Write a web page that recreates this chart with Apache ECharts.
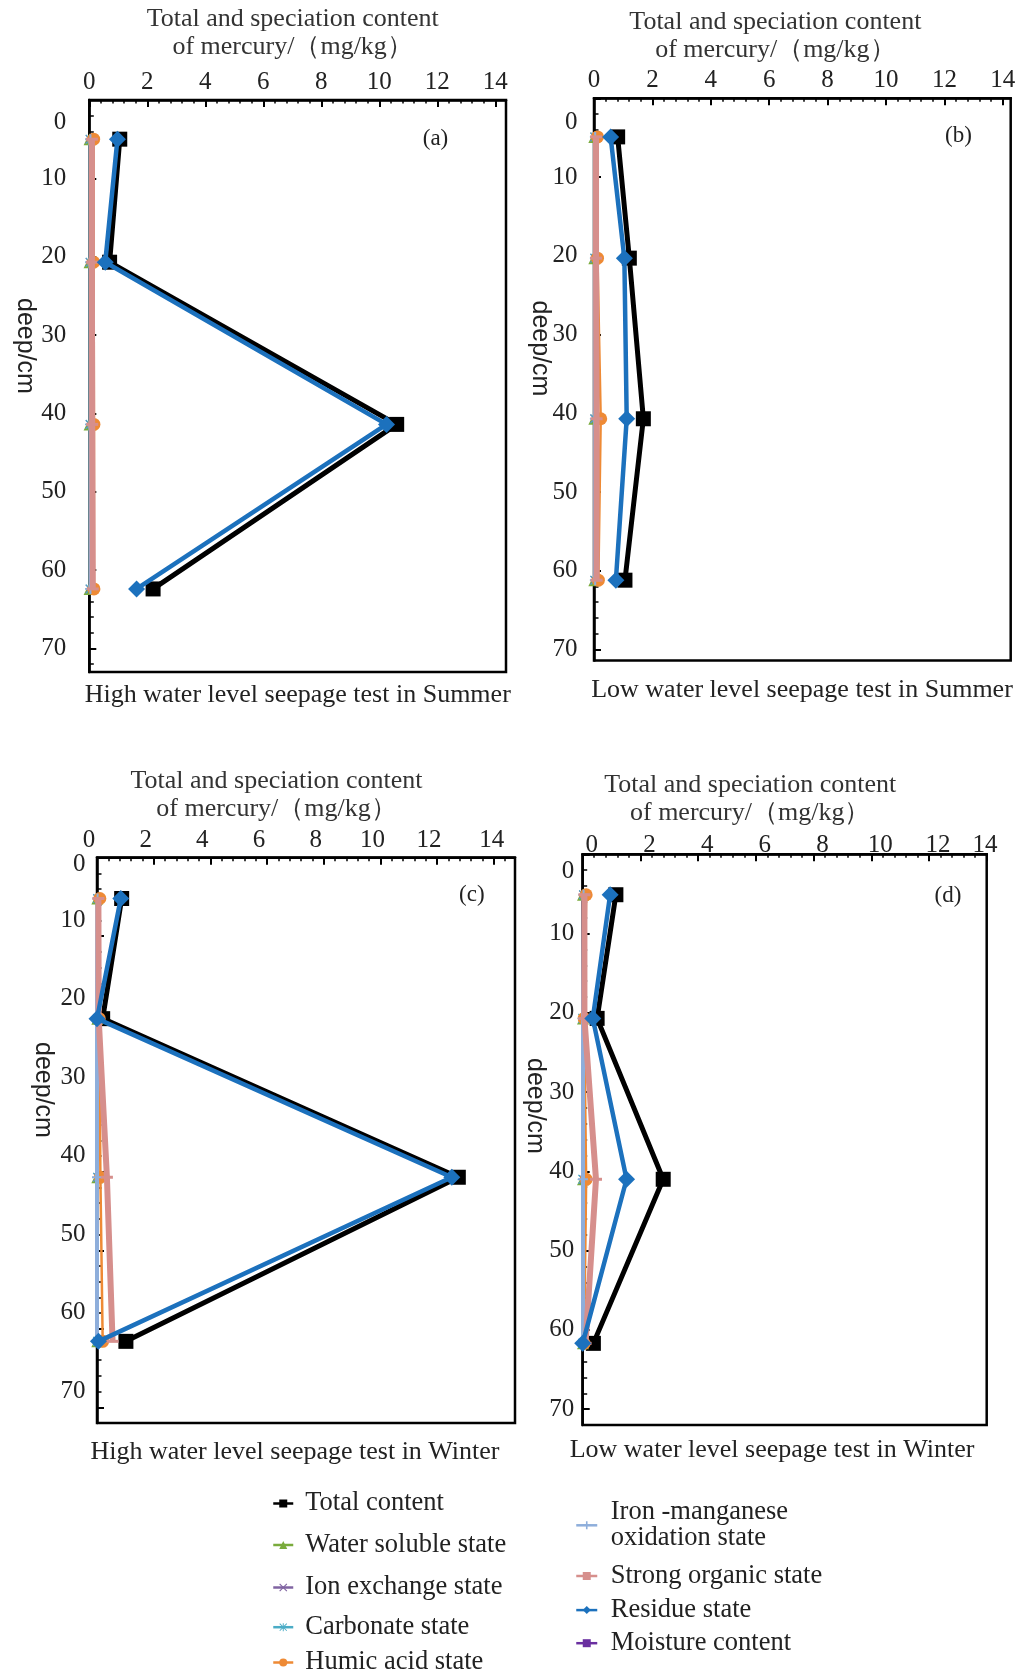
<!DOCTYPE html>
<html>
<head>
<meta charset="utf-8">
<script src="https://cdn.jsdelivr.net/npm/echarts@6/dist/echarts.min.js"></script>
<style>html,body{margin:0;padding:0;background:#fff}#c{width:1030px;height:1674px}</style>
</head>
<body>
<div id="c"></div>
<script>
// ---------- DATA ----------
// depth of the sampling points (cm), per panel
const depthA = [5, 20.7, 41.4, 62.4];
const depthB = [4.9, 20.3, 40.7, 61.2];
const depthC = [5.2, 20.5, 40.7, 61.6];
const depthD = [5.1, 20.7, 41.0, 61.7];

// (a) High water level seepage test in Summer
const totalA   = [1.05, 0.70, 10.60, 2.20];
const waterA   = [0.01, 0.01, 0.01, 0.01];
const ionA     = [0.02, 0.02, 0.02, 0.02];
const carbA    = [0.03, 0.03, 0.03, 0.03];
const humicA   = [0.15, 0.15, 0.16, 0.16];
const ironA    = [0.04, 0.04, 0.04, 0.04];
const organicA = [0.09, 0.09, 0.10, 0.12];
const residueA = [0.97, 0.55, 10.25, 1.63];

// (b) Low water level seepage test in Summer
const totalB   = [0.81, 1.21, 1.69, 1.06];
const waterB   = [0.01, 0.01, 0.01, 0.01];
const ionB     = [0.02, 0.02, 0.02, 0.02];
const carbB    = [0.03, 0.03, 0.03, 0.03];
const humicB   = [0.12, 0.12, 0.23, 0.15];
const ironB    = [0.04, 0.04, 0.04, 0.04];
const organicB = [0.07, 0.07, 0.09, 0.09];
const residueB = [0.57, 1.04, 1.12, 0.75];

// (c) High water level seepage test in Winter
const totalC   = [0.87, 0.20, 12.75, 1.02];
const waterC   = [0.01, 0.01, 0.01, 0.01];
const ionC     = [0.02, 0.02, 0.02, 0.02];
const carbC    = [0.02, 0.02, 0.02, 0.02];
const humicC   = [0.10, 0.08, 0.12, 0.20];
const ironC    = [0.02, 0.0, 0.0, 0.0];
const organicC = [0.05, 0.06, 0.35, 0.55];
const residueC = [0.84, 0.0, 12.52, 0.05];

// (d) Low water level seepage test in Winter
const totalD   = [1.15, 0.50, 2.79, 0.37];
const waterD   = [0.01, 0.01, 0.01, 0.01];
const ionD     = [0.02, 0.02, 0.02, 0.02];
const carbD    = [0.03, 0.0, 0.0, 0.0];
const humicD   = [0.12, 0.05, 0.12, 0.05];
const ironD    = [0.03, 0.01, 0.01, 0.01];
const organicD = [0.06, 0.06, 0.46, 0.10];
const residueD = [0.95, 0.35, 1.52, 0.0];

// tick labels
const xMajor = [0, 2, 4, 6, 8, 10, 12, 14];
const yMajor = [0, 10, 20, 30, 40, 50, 60, 70];

// texts
const xTitle = 'Total and speciation content\nof mercury/（mg/kg）';
const yTitle = 'deep/cm';
const panelTags = ['(a)', '(b)', '(c)', '(d)'];
const panelTitles = [
  'High water level seepage test in Summer',
  'Low water level seepage test in Summer',
  'High water level seepage test in Winter',
  'Low water level seepage test in Winter'
];
const seriesNames = [
  'Total content', 'Water soluble state', 'Ion exchange state', 'Carbonate state',
  'Humic acid state', 'Iron -manganese oxidation state', 'Strong organic state', 'Residue state'
];
const moistureName = 'Moisture content';

// ---------- build ----------
const panelData = [
  {depth: depthA, vals: [totalA, waterA, ionA, carbA, humicA, ironA, organicA, residueA]},
  {depth: depthB, vals: [totalB, waterB, ionB, carbB, humicB, ironB, organicB, residueB]},
  {depth: depthC, vals: [totalC, waterC, ionC, carbC, humicC, ironC, organicC, residueC]},
  {depth: depthD, vals: [totalD, waterD, ionD, carbD, humicD, ironD, organicD, residueD]}
];

const SERIF = 'Liberation Serif';
const SANS = 'Liberation Sans';

const xMinor = []; for (let k = 0; k <= 37; k++) xMinor.push(+(k * 0.4).toFixed(1));
const yMinor = []; for (let k = 0; k <= 37; k++) yMinor.push(k * 2);

const panels = [
  {left: 89.3, top: 100, width: 416.7, height: 572, xMax: 14.37, yMax: 73, xMargin: 5, xShift: 0, xLastShift: 0,
   yMargin: 23, yZeroShift: 22.7, yShift: 0, nameGap: 39, namePad: [0, 10, 0, 0],
   tag: [435.5, 138.8], sub: [297.8, 695], deep: [25, 346]},
  {left: 594, top: 98.3, width: 416.7, height: 562.2, xMax: 14.27, yMax: 71.4, xMargin: 5, xShift: 0, xLastShift: 0,
   yMargin: 16.5, yZeroShift: 24.4, yShift: 0, nameGap: 34.3, namePad: [0, 54, 0, 0],
   tag: [958.5, 135.6], sub: [802, 690.6], deep: [540, 348.5]},
  {left: 97, top: 857.7, width: 418, height: 565.3, xMax: 14.75, yMax: 72, xMargin: 5, xShift: -8, xLastShift: -2,
   yMargin: 11.6, yZeroShift: 7, yShift: -16, nameGap: 34.7, namePad: [0, 59, 0, 0],
   tag: [471.8, 894.5], sub: [295, 1451.7], deep: [43, 1090]},
  {left: 582.7, top: 854.3, width: 404, height: 570.7, xMax: 14, yMax: 72, xMargin: -4, xShift: 9, xLastShift: -1.7,
   yMargin: 8.4, yZeroShift: 16.7, yShift: 0, nameGap: 27.3, namePad: [0, 69, 0, 0],
   tag: [947.9, 895.6], sub: [772, 1450.6], deep: [535, 1106]}
];

const styles = [
  {color: '#000000', symbol: 'rect', size: 15, width: 5},
  {color: '#7aab3c', symbol: 'triangle', size: 12, width: 2},
  {color: '#8064a2', symbol: 'path://M1,0L5,4L9,0L10,1L6,5L10,9L9,10L5,6L1,10L0,9L4,5L0,1Z', size: 9, width: 2},
  {color: '#4bacc6', symbol: 'path://M4.4,0H5.6V10H4.4Z M0,4.4H10V5.6H0Z M1,0.2L9.8,9L9,9.8L0.2,1Z M9,0.2L9.8,1L1,9.8L0.2,9Z', size: 10, width: 2.5},
  {color: '#ee8a35', symbol: 'circle', size: 13, width: 2.5},
  {color: '#8eaedb', symbol: 'path://M4,0H6V4H10V6H6V10H4V6H0V4H4Z', size: 10, width: 4},
  {color: '#d68f8c', symbol: 'rect', size: [12, 3], width: 6},
  {color: '#1c71bd', symbol: 'diamond', size: 17, width: 4.5}
];

function padH(s) { return s >= 0 ? [0, 0, 0, 2 * s] : [0, -2 * s, 0, 0]; }
function padV(s) { return s >= 0 ? [2 * s, 0, 0, 0] : [0, 0, -2 * s, 0]; }
const labelBase = {fontFamily: SERIF, fontSize: 25, color: '#222'};

const grid = [], xAxis = [], yAxis = [], series = [], graphic = [];

panels.forEach((p, i) => {
  grid.push({left: p.left, top: p.top, width: p.width, height: p.height, show: true,
    borderColor: '#000', borderWidth: 2.5, backgroundColor: 'rgba(0,0,0,0)', containLabel: false, outerBoundsMode: 'none'});

  xAxis.push({
    gridIndex: i, type: 'value', position: 'top', min: 0, max: p.xMax, interval: 2,
    name: xTitle, nameLocation: 'middle', nameGap: p.nameGap, nameMoveOverlap: false,
    nameTextStyle: {fontFamily: SERIF, fontSize: 26, color: '#333', lineHeight: 28, padding: p.namePad},
    axisLine: {show: true, onZero: false, lineStyle: {color: '#000', width: 2.5}},
    axisTick: {show: true, inside: true, length: 7, lineStyle: {color: '#000', width: 2}, customValues: xMajor},
    minorTick: {show: false},
    axisLabel: {show: true, margin: p.xMargin, customValues: xMajor, showMaxLabel: true,
      fontFamily: SERIF, fontSize: 25, color: '#222',
      formatter: v => (v === 14 ? '{l|' : '{n|') + v + '}',
      rich: {n: Object.assign({padding: padH(p.xShift)}, labelBase), l: Object.assign({padding: padH(p.xLastShift)}, labelBase)}},
    splitLine: {show: false}
  });
  xAxis.push({
    gridIndex: i, type: 'value', position: 'top', min: 0, max: p.xMax, interval: 2,
    axisLine: {show: false}, axisLabel: {show: false}, splitLine: {show: false},
    axisTick: {show: true, inside: true, length: 3.5, lineStyle: {color: '#000', width: 1.5}, customValues: xMinor}
  });

  yAxis.push({
    gridIndex: i, type: 'value', position: 'left', inverse: true, min: 0, max: p.yMax, interval: 10,
    axisLine: {show: true, onZero: false, lineStyle: {color: '#000', width: 2.5}},
    axisTick: {show: true, inside: true, length: 7, lineStyle: {color: '#000', width: 2}, customValues: yMajor},
    minorTick: {show: false},
    axisLabel: {show: true, margin: p.yMargin, customValues: yMajor,
      fontFamily: SERIF, fontSize: 25, color: '#222',
      formatter: v => (v === 0 ? '{z|0}' : '{n|' + v + '}'),
      rich: {z: Object.assign({padding: padV(p.yZeroShift)}, labelBase), n: Object.assign({padding: padV(p.yShift)}, labelBase)}},
    splitLine: {show: false}
  });
  yAxis.push({
    gridIndex: i, type: 'value', position: 'left', inverse: true, min: 0, max: p.yMax, interval: 10,
    axisLine: {show: false}, axisLabel: {show: false}, splitLine: {show: false},
    axisTick: {show: true, inside: true, length: 4.5, lineStyle: {color: '#000', width: 1.5}, customValues: yMinor}
  });

  const pd = panelData[i];
  styles.forEach((st, s) => {
    series.push({
      type: 'line', name: seriesNames[s], xAxisIndex: 2 * i, yAxisIndex: 2 * i,
      data: pd.depth.map((d, k) => [pd.vals[s][k], d]),
      symbol: st.symbol, symbolSize: st.size, showSymbol: true, showAllSymbol: true, clip: false,
      itemStyle: {color: st.color}, lineStyle: {color: st.color, width: st.width},
      emphasis: {disabled: true}, animation: false, z: 2 + s
    });
  });

  graphic.push({type: 'text', x: p.tag[0], y: p.tag[1], style: {text: panelTags[i], fontFamily: SERIF, fontSize: 23, fill: '#222', align: 'center', verticalAlign: 'middle'}});
  graphic.push({type: 'text', x: p.sub[0], y: p.sub[1], style: {text: panelTitles[i], fontFamily: SERIF, fontSize: 26, fill: '#222', align: 'center', verticalAlign: 'middle'}});
  graphic.push({type: 'text', x: p.deep[0], y: p.deep[1], rotation: -Math.PI / 2, style: {text: yTitle, fontFamily: SANS, fontSize: 25, fill: '#222', align: 'center', verticalAlign: 'middle'}});
});

series.push({type: 'line', name: moistureName, xAxisIndex: 0, yAxisIndex: 0, data: [],
  symbol: 'rect', symbolSize: 10, itemStyle: {color: '#6a2fa0'}, lineStyle: {color: '#6a2fa0', width: 2}});

const legendItems = [
  {name: seriesNames[0], left: 272, cy: 1503},
  {name: seriesNames[1], left: 272, cy: 1544.5},
  {name: seriesNames[2], left: 272, cy: 1587},
  {name: seriesNames[3], left: 272, cy: 1626.7},
  {name: seriesNames[4], left: 272, cy: 1662},
  {name: seriesNames[5], left: 575, cy: 1525.3, two: true},
  {name: seriesNames[6], left: 575, cy: 1575.5},
  {name: seriesNames[7], left: 575, cy: 1609.6},
  {name: moistureName, left: 575, cy: 1642.7}
];
const legend = legendItems.map(it => {
  const pl = it.left < 500 ? 7 : 8.5;
  return {
    data: [it.name], left: it.left, top: it.two ? it.cy - 39 : it.cy - 13, padding: 0,
    itemWidth: it.left < 500 ? 20 : 21, itemHeight: 10, selectedMode: false,
    formatter: it.two ? (n => n.replace(' oxidation', '\noxidation')) : '{name}',
    textStyle: {fontFamily: SERIF, fontSize: 26.5, color: '#222', lineHeight: 26, padding: it.two ? [26, 0, 0, pl] : [0, 0, 0, pl]},
    lineStyle: {width: 2.5}
  };
});

const chart = echarts.init(document.getElementById('c'), null, {renderer: 'canvas'});
chart.setOption({
  animation: false,
  backgroundColor: '#fff',
  textStyle: {fontFamily: SERIF},
  grid, xAxis, yAxis, series, legend, graphic
});
</script>
</body>
</html>
